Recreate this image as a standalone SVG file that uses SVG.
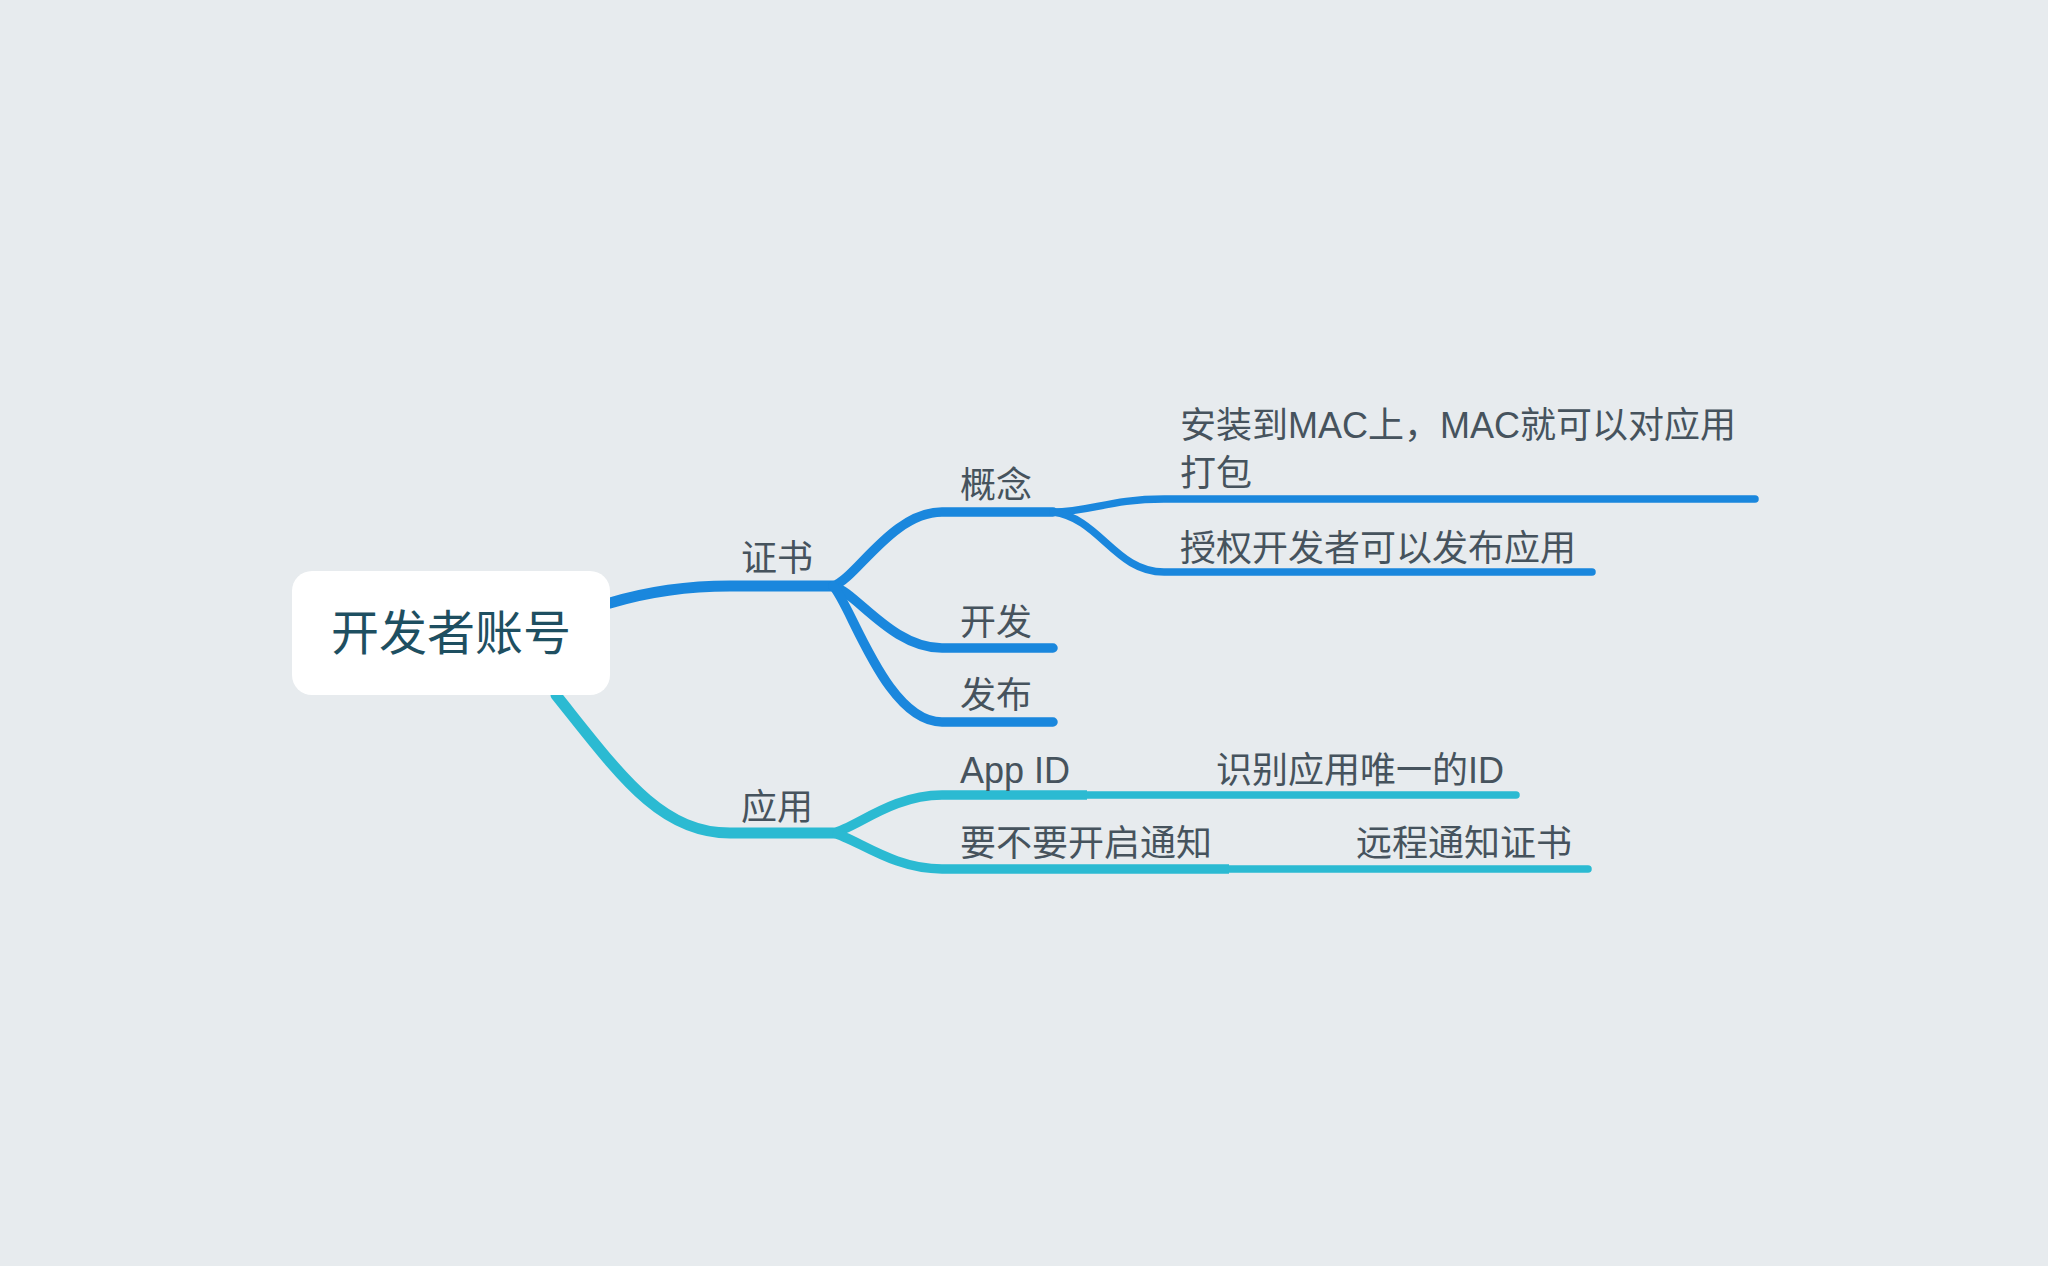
<svg xmlns="http://www.w3.org/2000/svg" width="2048" height="1266" viewBox="0 0 2048 1266">
<style>
.t{font-family:"Liberation Sans","Noto Sans CJK SC",sans-serif;font-size:36px;fill:#46535d}
.root{font-family:"Liberation Sans","Noto Sans CJK SC",sans-serif;font-size:48px;fill:#1e4f61}
.b{stroke:#1a87dd;fill:none;stroke-linecap:round}
.c{stroke:#2bbad2;fill:none;stroke-linecap:round}
.w1{stroke-width:11}
.w2{stroke-width:9.5}
.w3{stroke-width:7.5}
</style>
<rect width="2048" height="1266" fill="#e7ebee"/>
<g id="connectors">
  <path class="b w1" d="M610 603 C640 594,680 586,730 586 L833 586"/>
  <path class="c w1" d="M556 695 C620 775,660 833,730 833 L833 833"/>
  <path class="b w2" d="M833 586 C856 579,892 512,942 512 L1053 512"/>
  <path class="b w2" d="M833 586 C856 592,892 648,942 648 L1053 648"/>
  <path class="b w2" d="M833 586 C851 604,886 722,942 722 L1053 722"/>
  <path class="b w3" d="M1053 512 C1090 512,1110 499,1164 499 L1755 499"/>
  <path class="b w3" d="M1053 512 C1100 518,1115 572,1164 572 L1592 572"/>
  <path class="c w3" d="M1085 795 L1516 795"/>
  <path class="c w3" d="M1228 869 L1588 869"/>
  <path class="c w2" style="stroke-linecap:butt" d="M833 833 C856 828,892 795,942 795 L1087 795"/>
  <path class="c w2" style="stroke-linecap:butt" d="M833 833 C856 838,892 869,942 869 L1229 869"/>
</g>
<g id="root">
  <rect x="292" y="571" width="318" height="124" rx="20" fill="#ffffff"/>
  <text class="root" x="451" y="650" text-anchor="middle">开发者账号</text>
</g>
<g id="n-zhengshu"><text class="t" x="741" y="571">证书</text></g>
<g id="n-yingyong"><text class="t" x="741" y="820">应用</text></g>
<g id="n-gainian"><text class="t" x="960" y="498">概念</text></g>
<g id="n-kaifa"><text class="t" x="960" y="635">开发</text></g>
<g id="n-fabu"><text class="t" x="960" y="708">发布</text></g>
<g id="n-install"><text class="t" x="1180" y="438">安装到MAC上，MAC就可以对应用</text><text class="t" x="1180" y="486">打包</text></g>
<g id="n-auth"><text class="t" x="1180" y="561">授权开发者可以发布应用</text></g>
<g id="n-appid"><text class="t" x="960" y="783">App ID</text></g>
<g id="n-identify"><text class="t" x="1216" y="783">识别应用唯一的ID</text></g>
<g id="n-notify"><text class="t" x="960" y="856">要不要开启通知</text></g>
<g id="n-remote"><text class="t" x="1356" y="856">远程通知证书</text></g>
</svg>
